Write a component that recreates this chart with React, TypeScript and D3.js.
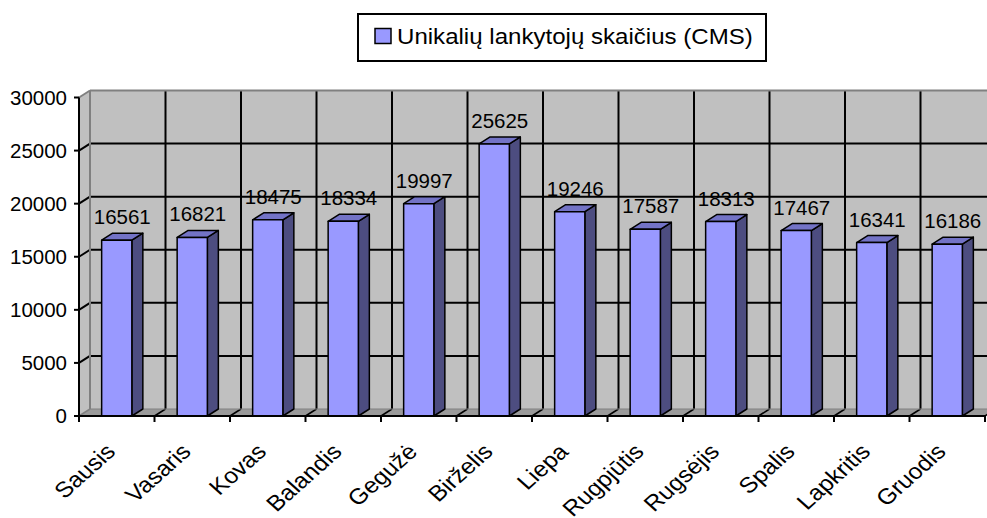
import React from 'react';
import * as d3 from 'd3';

const months = ['Sausis', 'Vasaris', 'Kovas', 'Balandis', 'Gegužė', 'Birželis', 'Liepa', 'Rugpjūtis', 'Rugsėjis', 'Spalis', 'Lapkritis', 'Gruodis'];
const visitors = [16561, 16821, 18475, 18334, 19997, 25625, 19246, 17587, 18313, 17467, 16341, 16186];
const yTicks = [0, 5000, 10000, 15000, 20000, 25000, 30000];
const seriesName = 'Unikalių lankytojų skaičius (CMS)';

const App = () => {
  // chart geometry
  const width = 987;
  const height = 518;
  const left = 79;
  const right = 985;
  const floorY = 416;
  const topY = 97.5;
  const dx = 11; // depth offset
  const dy = 7;
  const font = '"Liberation Sans", Arial, sans-serif';
  const stretch = 1.12; // the original text looks a bit wide

  const x = d3.scaleBand().domain(months).range([left, right]).padding(0);
  const y = d3.scaleLinear().domain([0, 30000]).range([floorY, topY]);
  const bw = x.bandwidth() / 2.5;

  const barFront = '#9999ff';
  const barSide = '#4d4d80';
  const barTop = '#7373c6';

  const boundaries = d3.range(months.length + 1).map((i) => left + i * x.step());

  return (
    <svg width={width} height={height} style={{ position: 'absolute', left: 0, top: 0 }} fontFamily={font}>
      <rect width={width} height={height} fill="#fff" />

      {/* back wall */}
      <rect x={left + dx} y={y(30000) - dy} width={right - left + 10} height={floorY - y(30000)} fill="#c0c0c0" />
      {/* left side wall */}
      <polygon
        points={`${left},${y(30000)} ${left + dx},${y(30000) - dy} ${left + dx},${floorY - dy} ${left},${floorY}`}
        fill="#c0c0c0"
      />
      {/* floor */}
      <polygon
        points={`${left},${floorY} ${left + dx},${floorY - dy} ${right + dx},${floorY - dy} ${right},${floorY}`}
        fill="#9a9a9a"
      />

      {/* horizontal gridlines */}
      {yTicks.filter((t) => t > 0 && t < 30000).map((t) => (
        <g key={t}>
          <line x1={left + dx} x2={width} y1={y(t) - dy} y2={y(t) - dy} stroke="#000" strokeWidth={2} />
          <line x1={left} x2={left + dx} y1={y(t)} y2={y(t) - dy} stroke="#000" strokeWidth={2} />
        </g>
      ))}
      {/* vertical gridlines + floor diagonals */}
      {boundaries.slice(1).map((bx, i) => (
        <g key={i}>
          <line x1={bx + dx} x2={bx + dx} y1={y(30000) - dy} y2={floorY - dy} stroke="#000" strokeWidth={2} />
          <line x1={bx + dx} x2={bx} y1={floorY - dy} y2={floorY} stroke="#000" strokeWidth={1.5} />
        </g>
      ))}
      {/* wall edges */}
      <line x1={left + dx} x2={width} y1={y(30000) - dy} y2={y(30000) - dy} stroke="#808080" strokeWidth={2} />
      <line x1={left + dx} x2={left + dx} y1={y(30000) - dy} y2={floorY - dy} stroke="#808080" strokeWidth={2} />
      <line x1={left} x2={left + dx} y1={y(30000)} y2={y(30000) - dy} stroke="#808080" strokeWidth={2} />
      <line x1={left + dx} x2={width} y1={floorY - dy} y2={floorY - dy} stroke="#808080" strokeWidth={1} />
      <line x1={left} x2={left + dx} y1={floorY} y2={floorY - dy} stroke="#808080" strokeWidth={1.5} />

      {/* bars */}
      {months.map((m, i) => {
        const cx = (x(m) as number) + x.bandwidth() / 2;
        const x0 = cx - bw / 2;
        const x1 = cx + bw / 2;
        const yv = y(visitors[i]);
        return (
          <g key={m} stroke="#000" strokeWidth={1.5} strokeLinejoin="round">
            <polygon points={`${x1},${yv} ${x1 + dx},${yv - dy} ${x1 + dx},${floorY - dy} ${x1},${floorY}`} fill={barSide} />
            <polygon points={`${x0},${yv} ${x0 + dx},${yv - dy} ${x1 + dx},${yv - dy} ${x1},${yv}`} fill={barTop} />
            <rect x={x0} y={yv} width={bw} height={floorY - yv} fill={barFront} />
          </g>
        );
      })}

      {/* value labels */}
      {months.map((m, i) => {
        const cx = (x(m) as number) + x.bandwidth() / 2 + dx / 2;
        return (
          <text key={m} x={cx} y={y(visitors[i]) - dy - 9} textAnchor="middle" fontSize={20.5} fill="#000">
            {visitors[i]}
          </text>
        );
      })}

      {/* y axis */}
      <line x1={left} x2={left} y1={y(30000)} y2={floorY + 1} stroke="#000" strokeWidth={2} />
      {yTicks.map((t) => (
        <g key={t}>
          <line x1={left - 5} x2={left} y1={y(t)} y2={y(t)} stroke="#000" strokeWidth={2} />
          <text x={67} y={y(t)} dy="0.35em" textAnchor="end" fontSize={20.5} fill="#000">
            {t}
          </text>
        </g>
      ))}

      {/* x axis */}
      <line x1={left - 5} x2={right} y1={floorY} y2={floorY} stroke="#000" strokeWidth={2} />
      {boundaries.map((bx, i) => (
        <line key={i} x1={bx} x2={bx} y1={floorY} y2={floorY + 6} stroke="#000" strokeWidth={2} />
      ))}
      {months.map((m) => {
        const cx = (x(m) as number) + x.bandwidth() / 2;
        return (
          <text
            key={m}
            transform={`translate(${cx},${floorY + 37}) scale(${stretch},1) rotate(-45)`}
            textAnchor="end"
            fontSize={22}
            fill="#000"
          >
            {m}
          </text>
        );
      })}

      {/* legend */}
      <rect x={358} y={14} width={408} height={47} fill="#fff" stroke="#000" strokeWidth={2} />
      <rect x={375} y={28.5} width={16} height={15} fill={barFront} stroke="#000" strokeWidth={1.5} />
      <text transform={`translate(397,43.5) scale(${stretch},1)`} fontSize={21.5} fill="#000">
        {seriesName}
      </text>
    </svg>
  );
};

export default App;
